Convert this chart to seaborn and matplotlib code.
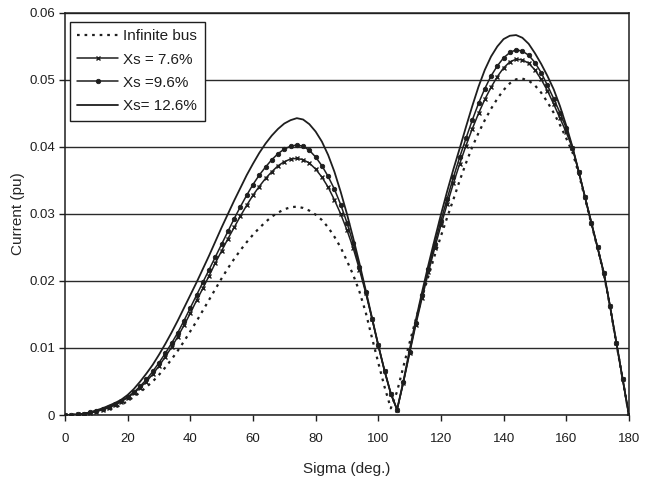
import matplotlib
matplotlib.use("Agg")
import matplotlib.pyplot as plt
import numpy as np
import pandas as pd
import seaborn as sns

# ---------------- data ----------------
sigma = list(range(0, 181, 2))

infinite_bus = [
    0.0000, 0.0000, 0.0001, 0.0001, 0.0002, 0.0004, 0.0006, 0.0008, 0.0011, 0.0015,
    0.0021, 0.0027, 0.0034, 0.0042, 0.0050, 0.0060, 0.0071, 0.0083, 0.0096, 0.0110,
    0.0125, 0.0140, 0.0156, 0.0172, 0.0188, 0.0204, 0.0219, 0.0233, 0.0246, 0.0258,
    0.0269, 0.0279, 0.0288, 0.0296, 0.0302, 0.0307, 0.0310, 0.0311, 0.0309, 0.0305,
    0.0299, 0.0291, 0.0280, 0.0266, 0.0250, 0.0230, 0.0209, 0.0184, 0.0153, 0.0115,
    0.0078, 0.0042, 0.0010, 0.0035, 0.0072, 0.0108, 0.0143, 0.0176, 0.0207, 0.0238,
    0.0267, 0.0295, 0.0322, 0.0350, 0.0376, 0.0400, 0.0421, 0.0440, 0.0457, 0.0472,
    0.0485, 0.0495, 0.0501, 0.0502, 0.0499, 0.0492, 0.0481, 0.0467, 0.0451, 0.0433,
    0.0413, 0.0392, 0.0360, 0.0323, 0.0286, 0.0249, 0.0211, 0.0161, 0.0107, 0.0054,
    0.0000,
]

xs_7_6 = [
    0.0000, 0.0000, 0.0001, 0.0002, 0.0003, 0.0005, 0.0008, 0.0011, 0.0015, 0.0020,
    0.0026, 0.0033, 0.0041, 0.0050, 0.0061, 0.0073, 0.0087, 0.0101, 0.0117, 0.0134,
    0.0152, 0.0171, 0.0189, 0.0208, 0.0227, 0.0245, 0.0263, 0.0280, 0.0297, 0.0313,
    0.0328, 0.0341, 0.0353, 0.0363, 0.0372, 0.0378, 0.0382, 0.0383, 0.0381, 0.0376,
    0.0367, 0.0355, 0.0340, 0.0321, 0.0300, 0.0276, 0.0249, 0.0217, 0.0182, 0.0144,
    0.0104, 0.0066, 0.0032, 0.0008, 0.0048, 0.0092, 0.0135, 0.0175, 0.0213, 0.0249,
    0.0283, 0.0315, 0.0346, 0.0375, 0.0402, 0.0427, 0.0450, 0.0471, 0.0489, 0.0505,
    0.0518, 0.0527, 0.0531, 0.0530, 0.0525, 0.0515, 0.0501, 0.0484, 0.0464, 0.0443,
    0.0422, 0.0398, 0.0363, 0.0325, 0.0287, 0.0250, 0.0212, 0.0162, 0.0108, 0.0054,
    0.0000,
]

xs_9_6 = [
    0.0000, 0.0000, 0.0001, 0.0002, 0.0004, 0.0006, 0.0009, 0.0012, 0.0016, 0.0021,
    0.0027, 0.0034, 0.0043, 0.0053, 0.0065, 0.0078, 0.0092, 0.0107, 0.0123, 0.0141,
    0.0160, 0.0179, 0.0198, 0.0217, 0.0236, 0.0255, 0.0274, 0.0293, 0.0311, 0.0328,
    0.0344, 0.0358, 0.0370, 0.0381, 0.0390, 0.0397, 0.0401, 0.0403, 0.0401, 0.0395,
    0.0385, 0.0372, 0.0356, 0.0337, 0.0314, 0.0287, 0.0256, 0.0221, 0.0184, 0.0144,
    0.0104, 0.0066, 0.0032, 0.0008, 0.0049, 0.0094, 0.0138, 0.0179, 0.0218, 0.0255,
    0.0290, 0.0323, 0.0355, 0.0385, 0.0413, 0.0440, 0.0465, 0.0487, 0.0506, 0.0521,
    0.0533, 0.0541, 0.0545, 0.0543, 0.0537, 0.0526, 0.0511, 0.0492, 0.0472, 0.0451,
    0.0428, 0.0399, 0.0363, 0.0325, 0.0287, 0.0250, 0.0212, 0.0162, 0.0108, 0.0054,
    0.0000,
]

xs_12_6 = [
    0.0000, 0.0000, 0.0001, 0.0002, 0.0004, 0.0007, 0.0010, 0.0014, 0.0018, 0.0023,
    0.0030, 0.0039, 0.0050, 0.0062, 0.0075, 0.0090, 0.0106, 0.0123, 0.0141, 0.0160,
    0.0179, 0.0198, 0.0218, 0.0238, 0.0259, 0.0280, 0.0300, 0.0320, 0.0339, 0.0358,
    0.0375, 0.0391, 0.0405, 0.0417, 0.0427, 0.0435, 0.0440, 0.0443, 0.0441, 0.0434,
    0.0423, 0.0408, 0.0388, 0.0363, 0.0333, 0.0300, 0.0264, 0.0226, 0.0186, 0.0145,
    0.0104, 0.0066, 0.0032, 0.0008, 0.0050, 0.0097, 0.0142, 0.0184, 0.0224, 0.0262,
    0.0299, 0.0334, 0.0367, 0.0398, 0.0430, 0.0461, 0.0490, 0.0515, 0.0535, 0.0550,
    0.0561, 0.0566, 0.0567, 0.0563, 0.0554, 0.0540, 0.0524, 0.0506, 0.0486, 0.0461,
    0.0432, 0.0400, 0.0363, 0.0325, 0.0287, 0.0250, 0.0212, 0.0162, 0.0108, 0.0054,
    0.0000,
]

series_labels = ["Infinite bus", "Xs = 7.6%", "Xs =9.6%", "Xs= 12.6%"]
x_ticks = [0, 20, 40, 60, 80, 100, 120, 140, 160, 180]
y_ticks = [0, 0.01, 0.02, 0.03, 0.04, 0.05, 0.06]
y_tick_labels = ["0", "0.01", "0.02", "0.03", "0.04", "0.05", "0.06"]
x_label = "Sigma (deg.)"
y_label = "Current (pu)"

# ---------------- styling ----------------
sns.set_style("white")
plt.rcParams["font.family"] = ["Liberation Sans Narrow", "Liberation Sans", "DejaVu Sans"]

ink = "#1e1e1e"

fig = plt.figure(figsize=(6.47, 4.80), dpi=100)
ax = fig.add_axes([0.1005, 0.1354, 0.8715, 0.8376])

df = pd.DataFrame({
    "sigma": sigma * 4,
    "current": infinite_bus + xs_7_6 + xs_9_6 + xs_12_6,
    "series": sum([[s] * len(sigma) for s in series_labels], []),
})

styles = {
    "Infinite bus": dict(linestyle=(0, (1.2, 2.2)), linewidth=1.6, marker=None),
    "Xs = 7.6%": dict(linestyle="-", linewidth=1.1, marker="x", markersize=3.5,
                      markeredgewidth=1.0),
    "Xs =9.6%": dict(linestyle="-", linewidth=1.1, marker="o", markersize=3.2,
                     markeredgewidth=0.6),
    "Xs= 12.6%": dict(linestyle="-", linewidth=1.3, marker=None),
}

for name in series_labels:
    sub = df[df["series"] == name]
    st = styles[name]
    kw = dict(linestyle=st["linestyle"], linewidth=st["linewidth"])
    if st["marker"] is not None:
        kw.update(marker=st["marker"], markersize=st["markersize"],
                  markeredgewidth=st["markeredgewidth"], markeredgecolor=ink,
                  markerfacecolor=ink)
    sns.lineplot(data=sub, x="sigma", y="current", ax=ax, color=ink,
                 label=name, **kw)

ax.set_xlim(0, 180)
ax.set_ylim(0, 0.06)
ax.set_xticks(x_ticks)
ax.set_xticklabels([str(t) for t in x_ticks], fontsize=9.5)
ax.set_yticks(y_ticks)
ax.set_yticklabels(y_tick_labels, fontsize=9.5)
ax.set_xlabel(x_label, fontsize=11, labelpad=12)
ax.set_ylabel(y_label, fontsize=11, labelpad=3)

ax.yaxis.grid(True, color="#2a2a2a", linewidth=1.0)
ax.xaxis.grid(False)
ax.set_axisbelow(True)
for sp in ax.spines.values():
    sp.set_visible(True)
    sp.set_color(ink)
    sp.set_linewidth(1.1)

ax.tick_params(axis="both", direction="out", length=4, width=1.0, color=ink,
               labelcolor=ink, left=True, bottom=True)
ax.tick_params(axis="x", pad=9)
ax.tick_params(axis="y", pad=3)

leg = ax.legend(loc="upper left", bbox_to_anchor=(0.008, 0.978), frameon=True,
                fancybox=False, edgecolor=ink, framealpha=1, fontsize=11,
                handlelength=2.7, handletextpad=0.3, borderpad=0.5,
                labelspacing=0.6, borderaxespad=0.0)
leg.get_frame().set_linewidth(1.0)
for t in leg.get_texts():
    t.set_color(ink)

fig.savefig("out.png", dpi=100, facecolor="white")
